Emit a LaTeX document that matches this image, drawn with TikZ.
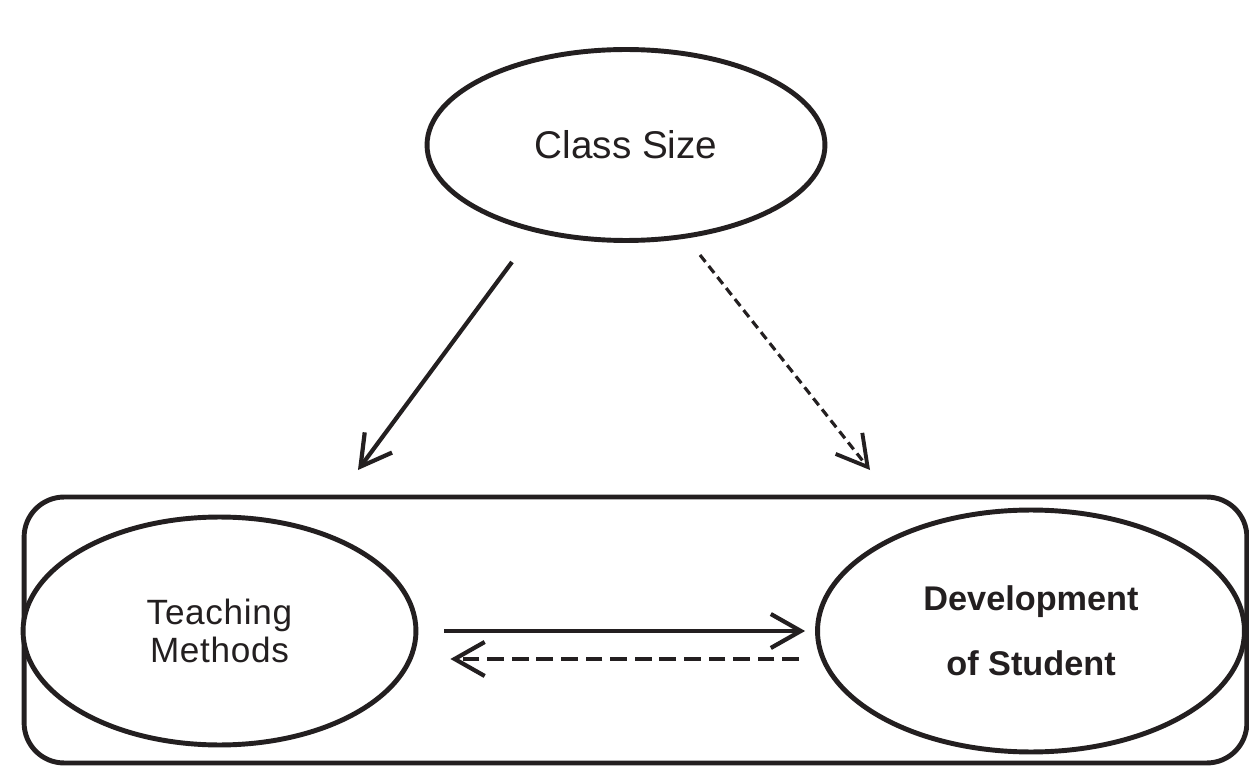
\documentclass[tikz,border=0pt]{standalone}
\usepackage{fontspec}
\setmainfont{Liberation Sans}
\usepackage{xcolor}
\usepackage{tikz}
\usetikzlibrary{arrows.meta,positioning,shapes.geometric,calc}
\definecolor{ink}{HTML}{231F20}
\tikzset{
  factor/.style={
    ellipse,
    draw=ink,
    line width=2.8pt,
    align=center,
    inner sep=0pt,
    fill=white
  },
  frame/.style={
    rectangle,
    rounded corners=0.8cm,
    draw=ink,
    line width=2.8pt,
    inner sep=0pt
  },
  flow/.style={
    -{Straight Barb[length=0.6cm,width=0.68cm,line width=2.4pt]},
    draw=ink,
    line width=2.4pt
  },
  backflow/.style={
    flow,
    dash pattern=on 9.5pt off 4.5pt
  },
  weakflow/.style={
    -{Straight Barb[length=0.6cm,width=0.68cm,line width=2.2pt]},
    draw=ink,
    line width=1.8pt,
    dash pattern=on 5pt off 3pt
  }
}

\begin{document}
\begin{tikzpicture}[x=0.02cm, y=-0.02cm, every node/.style={text=ink}]

\useasboundingbox (0,0) rectangle (1249,767);

% Top factor.
\node[factor, minimum width=7.96cm, minimum height=3.82cm,
  font=\fontsize{22}{26}\selectfont] (size) at (626,145) {Class Size};

% Frame holding the two linked factors.
\node[frame, minimum width=24.46cm, minimum height=5.32cm] (pair) at (635.5,630) {};

\node[factor, minimum width=7.86cm, minimum height=4.56cm,
  font=\fontsize{20}{21.5}\selectfont\addfontfeature{LetterSpace=2}]
  (teach) at (219.5,631) {Teaching\\Methods};
\node[factor, minimum width=8.54cm, minimum height=4.84cm,
  font=\fontsize{19.5}{37}\selectfont\bfseries]
  (dev) at (1031,631) {Development\\of Student};

% Free ends of the two arrows out of the top factor.
\coordinate (sizeleft) at (512,262);
\coordinate (sizeright) at (700,255);
\coordinate (teachtop) at (358,470);
\coordinate (devtop) at (870,470);

\draw[flow] (sizeleft) -- (teachtop);
\draw[weakflow] (sizeright) -- (devtop);

% Arrows between the framed factors.
\draw[flow, shorten <=0.52cm, shorten >=0.2cm] (teach.east) -- (dev.west);
\draw[backflow, shorten <=0.32cm, shorten >=0.64cm]
  ([yshift=-0.56cm]dev.west) -- ([yshift=-0.56cm]teach.east);

\end{tikzpicture}
\end{document}
